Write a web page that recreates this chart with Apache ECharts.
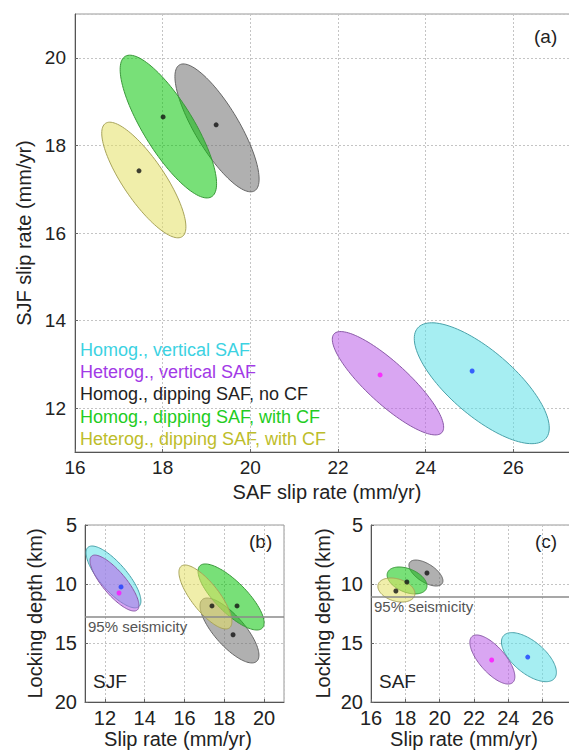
<!DOCTYPE html>
<html><head><meta charset="utf-8">
<script src="https://cdn.jsdelivr.net/npm/echarts@6/dist/echarts.min.js"></script>
<style>html,body{margin:0;padding:0;overflow:hidden;background:#fff;width:569px;height:750px}
#c{width:610px;height:750px}</style></head>
<body><div id="c"></div>
<script>
// ---- data ----
const modelNames = ['Homog., vertical SAF', 'Heterog., vertical SAF', 'Homog., dipping SAF, no CF', 'Homog., dipping SAF, with CF', 'Heterog., dipping SAF, with CF'];
// ellipses: [centre x, centre y, half-extent x, half-extent y, correlation]
const ellipsesA = [
  [25.28, 12.57, 1.54, 1.38, -0.74],
  [23.14, 12.57, 1.27, 1.18, -0.85],
  [19.24, 18.40, 0.96, 1.46, -0.80],
  [18.13, 18.43, 1.10, 1.63, -0.80],
  [17.57, 17.21, 0.96, 1.32, -0.81]
];
const bestA = [[25.06, 12.85], [22.96, 12.76], [19.22, 18.47], [18.01, 18.65], [17.46, 17.42]];
const ellipsesB = [
  [12.43, 9.40, 1.38, 2.62, 0.78],
  [12.48, 9.92, 1.23, 2.37, 0.80],
  [18.26, 13.94, 1.48, 2.75, 0.76],
  [18.34, 11.10, 1.66, 2.80, 0.78],
  [17.05, 11.10, 1.33, 2.71, 0.77]
];
const bestB = [[12.81, 10.25], [12.71, 10.76], [18.44, 14.30], [18.64, 11.86], [17.38, 11.86]];
const ellipsesC = [
  [25.20, 16.20, 1.60, 2.08, 0.62],
  [23.07, 16.40, 1.31, 2.08, 0.70],
  [19.20, 9.07, 0.99, 1.10, 0.60],
  [18.10, 9.70, 1.16, 1.14, 0.40],
  [17.48, 10.51, 1.08, 1.02, 0.30]
];
const bestC = [[25.13, 16.19], [23.03, 16.44], [19.26, 9.07], [18.09, 9.83], [17.45, 10.59]];
const seismicityB = 12.8;
const seismicityC = 11.1;
const seismicityLabel = '95% seismicity';
const panelLabels = ['(a)', '(b)', '(c)'];
const faultLabels = ['SJF', 'SAF'];

// ---- styles ----
const FONT = "'Liberation Sans', Arial, Helvetica, sans-serif";
const fillColors = ['rgba(93,224,231,0.55)', 'rgba(186,93,231,0.55)', 'rgba(112,112,112,0.55)', 'rgba(9,198,9,0.55)', 'rgba(228,224,100,0.55)'];
const edgeColors = ['#4aa2aa', '#8a5aa8', '#666666', '#3a983a', '#a8a45a'];
const dotColors = ['#1a3cff', '#ff10ff', '#111111', '#111111', '#111111'];
const legendColors = ['#3cd2e2', '#a23ae6', '#222222', '#22cc22', '#bdbd2a'];

function makeRender(m) {
  return function (params, api) {
    const cx = api.value(0), cy = api.value(1), sx = api.value(2), sy = api.value(3), r = api.value(4);
    const k = Math.sqrt(1 - r * r);
    const pts = [];
    for (let i = 0; i < 120; i++) {
      const t = 2 * Math.PI * i / 120;
      pts.push(api.coord([cx + sx * Math.cos(t), cy + sy * (r * Math.cos(t) + k * Math.sin(t))]));
    }
    return { type: 'polygon', shape: { points: pts }, style: { fill: fillColors[m], stroke: edgeColors[m], lineWidth: 1 } };
  };
}

const split = { show: true, lineStyle: { color: '#c4c4c4', type: [2, 2], width: 1 } };
const axLine = { show: true, lineStyle: { color: '#555', width: 1 } };
const tick = { show: true, inside: true, length: 3, lineStyle: { color: '#666' } };
function lbl(size, margin, extra) { return Object.assign({ color: '#222', fontSize: size, fontFamily: FONT, margin: margin }, extra || {}); }
const nameStyle = (pad) => ({ color: '#222', fontSize: 20, fontFamily: FONT, padding: pad });

const grids = [
  { left: 75, top: 14, width: 526, height: 438 },
  { left: 85, top: 525, width: 199, height: 177 },
  { left: 371, top: 525, width: 206, height: 177 }
].map(g => Object.assign(g, { show: true, borderColor: '#999', borderWidth: 1, outerBoundsMode: 'none', containLabel: false }));

const xAxis = [
  { gridIndex: 0, type: 'value', min: 16, max: 28, interval: 2, name: 'SAF slip rate (mm/yr)', nameLocation: 'middle', nameGap: 22, nameTextStyle: nameStyle([0, 22, 0, 0]), axisLine: axLine, axisTick: tick, splitLine: split, axisLabel: lbl(19, 6, { showMaxLabel: false }) },
  { gridIndex: 1, type: 'value', min: 11, max: 21, minInterval: 2, maxInterval: 2, name: 'Slip rate (mm/yr)', nameLocation: 'middle', nameGap: 24, nameTextStyle: nameStyle([0, 13, 0, 0]), axisLine: axLine, axisTick: tick, splitLine: split, axisLabel: lbl(20, 6, { showMinLabel: false, showMaxLabel: false }) },
  { gridIndex: 2, type: 'value', min: 16, max: 28, interval: 2, name: 'Slip rate (mm/yr)', nameLocation: 'middle', nameGap: 24, nameTextStyle: nameStyle([0, 20, 0, 0]), axisLine: axLine, axisTick: tick, splitLine: split, axisLabel: lbl(20, 6, { showMaxLabel: false }) }
];
const yAxis = [
  { gridIndex: 0, type: 'value', min: 11, max: 21, minInterval: 2, maxInterval: 2, name: 'SJF slip rate (mm/yr)', nameLocation: 'middle', nameGap: 40, nameTextStyle: nameStyle(0), axisLine: axLine, axisTick: tick, splitLine: split, axisLabel: lbl(19, 9, { showMinLabel: false, showMaxLabel: false }) },
  { gridIndex: 1, type: 'value', min: 5, max: 20, interval: 5, inverse: true, name: 'Locking depth (km)', nameLocation: 'middle', nameGap: 40, nameTextStyle: nameStyle(0), axisLine: axLine, axisTick: tick, splitLine: split, axisLabel: lbl(20, 8) },
  { gridIndex: 2, type: 'value', min: 5, max: 20, interval: 5, inverse: true, name: 'Locking depth (km)', nameLocation: 'middle', nameGap: 38, nameTextStyle: nameStyle(0), axisLine: axLine, axisTick: tick, splitLine: split, axisLabel: lbl(20, 8) }
];

const series = [];
[ellipsesA, ellipsesB, ellipsesC].forEach((set, p) => {
  set.forEach((e, m) => {
    series.push({ type: 'custom', name: modelNames[m], xAxisIndex: p, yAxisIndex: p, renderItem: makeRender(m), data: [e], z: 2 + m * 0.01, silent: true });
  });
});
const seism = [null, seismicityB, seismicityC];
[bestA, bestB, bestC].forEach((pts, p) => {
  const s = {
    type: 'scatter', xAxisIndex: p, yAxisIndex: p, symbolSize: 5, z: 5, silent: true,
    data: pts.map((d, m) => ({ value: d, itemStyle: { color: dotColors[m] } }))
  };
  if (seism[p] !== null) {
    s.markLine = {
      silent: true, symbol: 'none', animation: false,
      lineStyle: { color: '#8a8a8a', type: 'solid', width: 1.5 },
      label: { show: true, position: 'insideStartBottom', formatter: seismicityLabel, color: '#555', fontSize: 15, fontFamily: FONT, distance: [3, 2] },
      data: [{ yAxis: seism[p] }]
    };
  }
  series.push(s);
});

const graphic = [];
modelNames.forEach((n, m) => {
  graphic.push({ type: 'text', left: 80, top: 341 + m * 22.2, style: { text: n, fill: legendColors[m], fontSize: 18, fontFamily: FONT } });
});
graphic.push({ type: 'text', left: 534, top: 27, style: { text: panelLabels[0], fill: '#222', fontSize: 19, fontFamily: FONT } });
graphic.push({ type: 'text', left: 249, top: 532, style: { text: panelLabels[1], fill: '#222', fontSize: 19, fontFamily: FONT } });
graphic.push({ type: 'text', left: 535, top: 532, style: { text: panelLabels[2], fill: '#222', fontSize: 19, fontFamily: FONT } });
graphic.push({ type: 'text', left: 93, top: 672, style: { text: faultLabels[0], fill: '#222', fontSize: 19, fontFamily: FONT } });
graphic.push({ type: 'text', left: 379, top: 672, style: { text: faultLabels[1], fill: '#222', fontSize: 19, fontFamily: FONT } });

const chart = echarts.init(document.getElementById('c'), null, { renderer: 'svg' });
chart.setOption({ animation: false, backgroundColor: '#fff', grid: grids, xAxis, yAxis, series, graphic });
</script></body></html>
